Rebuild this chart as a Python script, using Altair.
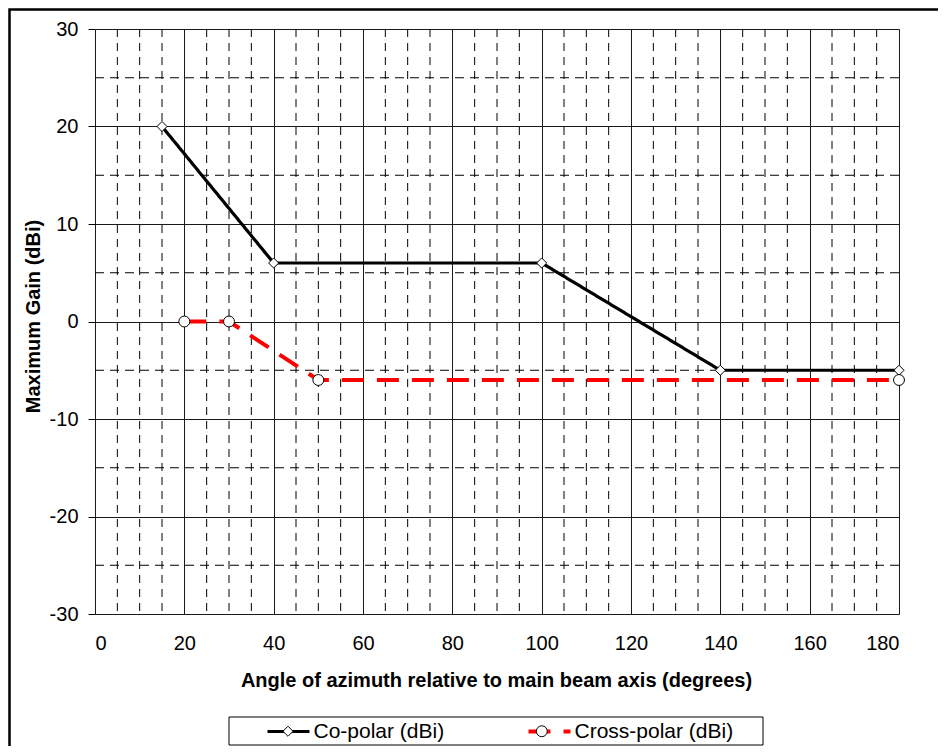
import altair as alt
import pandas as pd

# ---- data ----
co_angle = [15, 40, 100, 140, 180]
co_gain = [20, 6, 6, -5, -5]
cross_angle = [20, 30, 50, 180]
cross_gain = [0, 0, -6, -6]
series_names = ["Co-polar (dBi)", "Cross-polar (dBi)"]

x_major = [0, 20, 40, 60, 80, 100, 120, 140, 160, 180]
y_major = [-30, -20, -10, 0, 10, 20, 30]
x_minor = [5, 10, 15, 25, 30, 35, 45, 50, 55, 65, 70, 75, 85, 90, 95,
           105, 110, 115, 125, 130, 135, 145, 150, 155, 165, 170, 175]
y_minor = [-25, -15, -5, 5, 15, 25]

x_title = "Angle of azimuth relative to main beam axis (degrees)"
y_title = "Maximum Gain (dBi)"

df = pd.DataFrame({
    "angle": co_angle + cross_angle,
    "gain": co_gain + cross_gain,
    "series": [series_names[0]] * len(co_angle) + [series_names[1]] * len(cross_angle),
})
df["marker"] = df["series"]

W, H = 804, 585
FONT = "Liberation Sans"
SYM = 1764  # symbol box 42px

diamond = "M0,-0.24L0.24,0L0,0.24L-0.24,0Z"
circle = "M-0.26,0A0.26,0.26,0,1,0,0.26,0A0.26,0.26,0,1,0,-0.26,0Z"

xscale = alt.Scale(domain=[0, 180], nice=False, zero=False)
yscale = alt.Scale(domain=[-30, 30], nice=False, zero=False)

x_axis = alt.Axis(values=x_major, grid=True, gridColor="#1a1a1a", gridWidth=1,
                  domain=False, ticks=False, labelFontSize=20, labelFont=FONT,
                  labelColor="black", labelPadding=19, title=x_title,
                  titleFontSize=20, titleFont=FONT, titleFontWeight="bold",
                  titleColor="black", titleX=401, titleY=72,
                  titleBaseline="alphabetic", titleAlign="center")
y_axis = alt.Axis(values=y_major, grid=True, gridColor="#1a1a1a", gridWidth=1,
                  domain=False, ticks=True, tickSize=7, tickColor="black",
                  labelFontSize=20, labelFont=FONT, labelColor="black",
                  labelPadding=10, labelExpr="'' + datum.value",
                  title=y_title, titleFontSize=20,
                  titleFont=FONT, titleFontWeight="bold", titleColor="black",
                  titleAngle=-90, titleX=-62, titleY=287,
                  titleBaseline="middle", titleAlign="center")

one = pd.DataFrame({"k": [0]})

frame = alt.Chart(one).mark_rect(fill="transparent", stroke="black", strokeWidth=2.5).encode(
    x=alt.value(-85.5), x2=alt.value(860), y=alt.value(-19.5), y2=alt.value(740))

legend_box = alt.Chart(one).mark_rect(fill="white", stroke="black", strokeWidth=1).encode(
    x=alt.value(134), x2=alt.value(668), y=alt.value(688), y2=alt.value(716))

xminor = alt.Chart(pd.DataFrame({"v": x_minor})).mark_rule(
    color="black", strokeWidth=1, strokeDash=[8, 6]).encode(
    x=alt.X("v:Q", scale=xscale, axis=x_axis))
yminor = alt.Chart(pd.DataFrame({"v": y_minor})).mark_rule(
    color="black", strokeWidth=1, strokeDash=[9, 6]).encode(
    y=alt.Y("v:Q", scale=yscale, axis=y_axis))

leg_common = dict(orient="none", direction="horizontal", title=None,
                  labelFontSize=21, labelFont=FONT, labelColor="black",
                  padding=0, labelLimit=0, symbolSize=SYM)

legend_lines = alt.Legend(legendX=170.5, legendY=679.5, symbolType="stroke",
                          symbolStrokeWidth=3, labelOffset=2, columnPadding=76,
                          **leg_common)
legend_marks = alt.Legend(legendX=171.5, legendY=680.5, symbolStrokeWidth=1,
                          labelOffset=2, columnPadding=208.8, labelExpr="''",
                          **leg_common)

lines = alt.Chart(df).mark_line(clip=False).encode(
    x=alt.X("angle:Q", scale=xscale, axis=x_axis),
    y=alt.Y("gain:Q", scale=yscale, axis=y_axis),
    color=alt.Color("series:N", scale=alt.Scale(domain=series_names, range=["black", "red"]),
                    legend=legend_lines),
    strokeDash=alt.StrokeDash("series:N", scale=alt.Scale(domain=series_names, range=[[1, 0], [22, 13]]),
                              legend=legend_lines),
    strokeWidth=alt.StrokeWidth("series:N", scale=alt.Scale(domain=series_names, range=[3.2, 4]),
                                legend=None),
)

points = alt.Chart(df).mark_point(strokeWidth=1, size=SYM, opacity=1).encode(
    x=alt.X("angle:Q", scale=xscale, axis=x_axis),
    y=alt.Y("gain:Q", scale=yscale, axis=y_axis),
    shape=alt.Shape("marker:N", scale=alt.Scale(range=[diamond, circle]), legend=legend_marks),
    stroke=alt.Stroke("marker:N", scale=alt.Scale(range=["black", "black"]), legend=legend_marks),
    fill=alt.Fill("marker:N", scale=alt.Scale(range=["white", "white"]), legend=legend_marks),
)

chart = alt.layer(frame, legend_box, xminor, yminor, lines, points).properties(
    width=W, height=H,
    autosize=alt.AutoSizeParams(type="none"),
    padding={"left": 87, "top": 21, "right": 39, "bottom": 132},
).configure_view(stroke="black", strokeWidth=2).configure(font=FONT, background="white")

chart.save("out.html", embed_options={"renderer": "svg", "actions": False})
